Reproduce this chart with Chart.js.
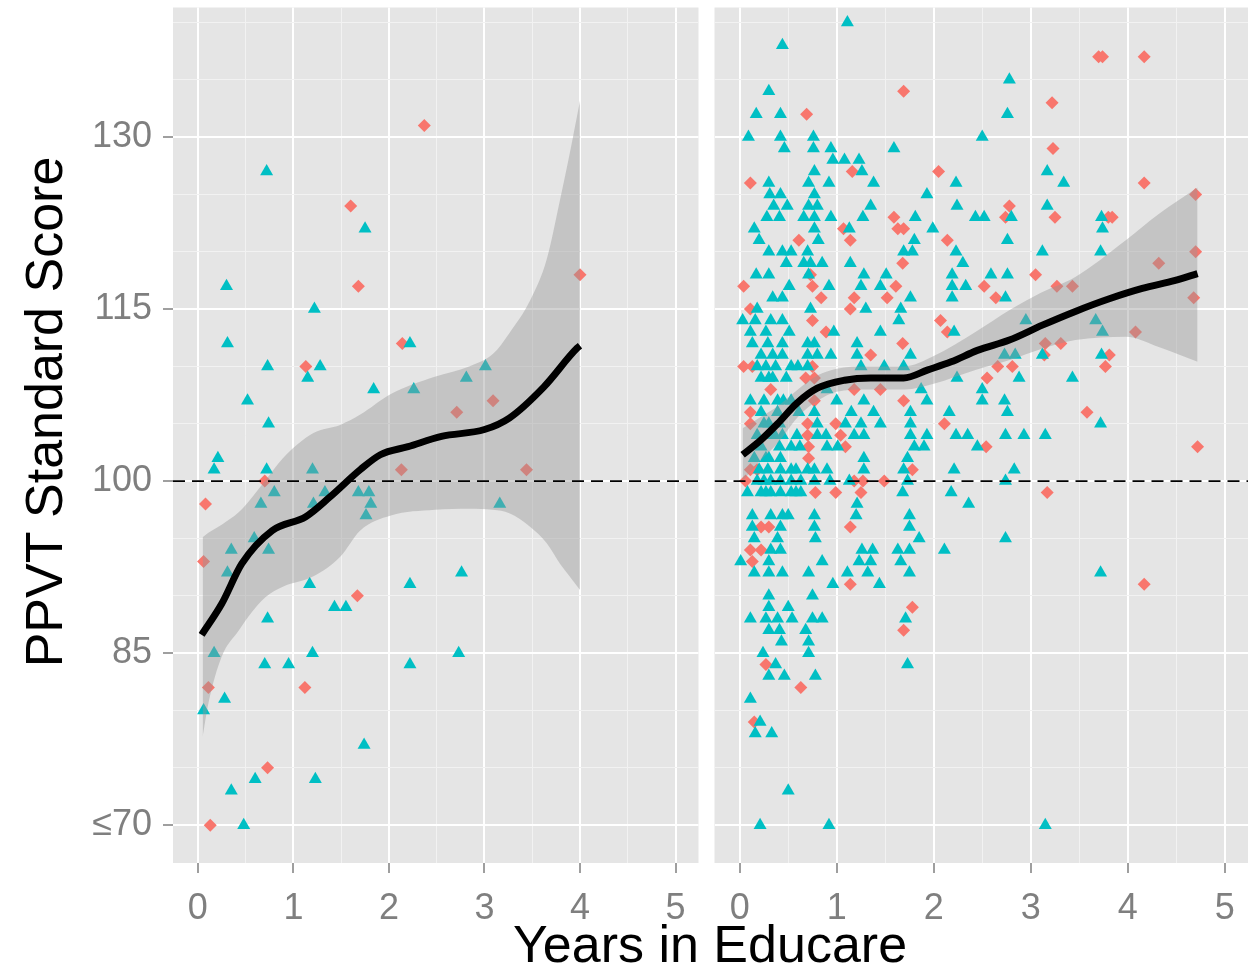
<!DOCTYPE html>
<html>
<head>
<meta charset="utf-8">
<script src="https://cdn.jsdelivr.net/npm/chart.js@4.4.1/dist/chart.umd.min.js"></script>
<style>
  body { margin: 0; background: #fff; }
  #wrap { position: relative; width: 1258px; height: 969px; font-family: "Liberation Sans", Arial, sans-serif; }
  canvas { position: absolute; top: 0; }
  #left { left: 0; }
  #right { left: 707px; }
  .axis-title { position: absolute; font-size: 52px; line-height: 52px; color: #000; white-space: nowrap; text-align: center; }
  #ytitle { left: -282px; top: 386px; width: 652px; transform: rotate(-90deg); }
  #xtitle { left: 410px; top: 918px; width: 600px; }
</style>
</head>
<body>
<div id="wrap">
  <canvas id="left" width="706" height="969"></canvas>
  <canvas id="right" width="551" height="969"></canvas>
  <div id="ytitle" class="axis-title">PPVT Standard Score</div>
  <div id="xtitle" class="axis-title">Years in Educare</div>
</div>
<script>
// axis setup
const xMin = -0.26, xMax = 5.24;
const yMin = 66.7, yMax = 141.3;
const xGrid = [0, 0.5, 1, 1.5, 2, 2.5, 3, 3.5, 4, 4.5, 5];
const yGrid = [70, 75, 80, 85, 90, 95, 100, 105, 110, 115, 120, 125, 130, 135, 140];
const yMajor = [70, 85, 100, 115, 130];
const refLine = 100;

// left panel points [years, score]
const leftTeal = [
  [0.72,127],[1.75,122],[0.30,117],[1.22,115],[0.31,112],[2.22,112],[0.73,110],[1.28,110],
  [1.15,109],[3.01,110],[2.81,109],[0.52,107],[1.84,108],[2.26,108],[0.74,105],[0.21,102],
  [0.17,101],[0.72,101],[1.20,101],[0.80,99],[1.33,99],[1.68,99],[1.79,99],[0.66,98],
  [1.21,98],[1.81,98],[1.76,97],[3.16,98],[0.59,95],[0.35,94],[0.74,94],[0.31,92],
  [1.17,91],[2.22,91],[2.76,92],[1.43,89],[1.55,89],[0.73,88],[0.17,85],[1.20,85],
  [2.73,85],[0.70,84],[0.95,84],[2.22,84],[0.28,81],[0.06,80],[1.74,77],[0.60,74],
  [1.23,74],[0.35,73],[0.48,70]
];
const leftRed = [
  [2.37,131],[1.60,124],[1.68,117],[4.0,118],[2.14,112],[1.13,110],[3.09,107],[2.71,106],
  [2.13,101],[3.44,101],[0.70,100],[0.08,98],[0.06,93],[1.67,90],[0.11,82],[1.12,82],
  [0.73,75],[0.13,70]
];

// right panel points [years, score]
const rightTeal = [
  [1.11,140],[0.44,138],[0.30,134],[0.17,132],[0.42,132],[0.09,130],[0.42,130],[0.76,130],
  [0.46,129],[0.76,129],[0.94,129],[1.59,129],[0.96,128],[1.08,128],[1.23,128],[1.26,127],
  [0.77,127],[0.30,126],[0.71,126],[0.92,126],[1.38,126],[2.23,126],[0.31,125],[0.42,125],
  [0.77,125],[1.93,125],[0.35,124],[0.49,124],[0.71,124],[0.80,124],[1.35,124],[2.24,124],
  [0.28,123],[0.41,123],[0.66,123],[0.77,123],[0.94,123],[1.27,123],[1.81,123],[0.15,122],
  [0.77,122],[1.13,122],[1.99,122],[0.20,121],[0.81,121],[1.80,121],[0.30,120],[0.44,120],
  [0.53,120],[0.70,120],[1.69,120],[1.78,120],[2.23,120],[0.48,119],[0.66,119],[0.73,119],
  [0.85,119],[1.14,119],[2.30,119],[0.17,118],[0.30,118],[0.71,118],[1.28,118],[1.51,118],
  [2.19,118],[0.51,117],[0.92,117],[1.25,117],[1.45,117],[2.19,117],[2.33,117],[0.34,116],
  [0.44,116],[1.76,116],[2.19,116],
  [0.18,115],[0.73,115],[1.30,115],[1.66,115],[0.03,114],[0.16,114],[0.32,114],[0.44,114],
  [1.64,114],[0.11,113],[0.27,113],[0.51,113],[0.97,113],[1.45,113],[2.21,113],[0.13,112],
  [0.29,112],[0.44,112],[0.70,112],[0.77,112],[1.21,112],[0.22,111],[0.34,111],[0.44,111],
  [0.70,111],[0.80,111],[0.94,111],[1.21,111],[1.76,111],[0.27,110],[0.37,110],[0.53,110],
  [0.70,110],[1.25,110],[1.49,110],[1.69,110],[0.22,109],[0.34,109],[0.48,109],[2.24,109],
  [0.90,108],[1.87,108],[0.11,107],[0.25,107],[0.39,107],[0.53,107],[1.00,107],[1.28,107],
  [1.93,107],[0.22,106],[0.39,106],[0.61,106],[0.77,106],[1.15,106],[1.38,106],[1.76,106],
  [2.16,106],[0.25,105],[0.41,105],[0.80,105],[1.09,105],[1.25,105],[1.45,105],[1.76,105],
  [0.18,104],[0.32,104],[0.44,104],[0.80,104],[0.89,104],[1.18,104],[1.28,104],[1.76,104],
  [1.93,104],[2.23,104],[2.35,104],[0.22,103],[0.41,103],[0.53,103],[0.90,103],[1.01,103],
  [1.80,103],[1.90,103],[0.15,102],[0.30,102],[0.42,102],[1.28,102],[1.73,102],[0.29,101],
  [0.42,101],[0.58,101],[0.70,101],[0.90,101],[1.28,101],[1.69,101],[2.21,101],[0.18,100],
  [0.32,100],[0.42,100],[0.53,100],[0.63,100],[0.77,100],[0.93,100],[1.13,100],[1.73,100],
  [0.08,99],[0.22,99],[0.32,99],[0.42,99],[0.53,99],[0.63,99],[1.68,99],[2.18,99],
  [2.36,98],[1.21,98],[1.20,97],[0.13,97],[0.32,97],[0.44,97],[0.77,97],[1.75,97],
  [0.13,96],[0.42,96],[0.77,96],[1.75,96],[0.15,95],[0.39,95],[0.78,95],[1.85,95],
  [0.32,94],[0.42,94],[1.26,94],[1.37,94],[1.63,94],[1.75,94],[2.11,94],[0.01,93],
  [0.30,93],[0.85,93],[1.23,93],[1.35,93],[1.66,93],[0.15,92],[0.30,92],[0.44,92],
  [0.71,92],[1.11,92],[1.32,92],[1.75,92],
  [0.20,101],[0.53,101],[0.77,101],[0.62,103],[0.27,102],[0.50,97],[0.25,100],[0.30,109],
  [0.45,107],[0.59,104],[0.36,104],[0.30,105],[0.60,110],[0.18,110],[0.58,99],[0.27,99],
  [0.96,91],[1.44,91],[0.30,90],[0.75,90],[0.30,89],[0.50,89],[0.11,88],[0.27,88],
  [0.39,88],[0.54,88],[0.75,88],[0.85,88],[1.71,88],[0.30,87],[0.41,87],[0.68,87],
  [0.43,86],[0.71,86],[0.24,85],[0.71,85],[0.37,84],[1.73,84],[0.30,83],[0.46,83],
  [0.78,83],[0.11,81],[0.21,79],[0.16,78],[0.33,78],[0.50,73],[0.21,70],[0.92,70],
  [2.78,135],[2.76,132],[2.50,130],[3.17,127],[3.34,126],[3.17,124],[2.43,123],[2.52,123],
  [2.80,123],[3.73,123],[3.74,122],[2.76,121],[3.12,120],[3.72,120],[2.59,118],[2.76,118],
  [2.74,116],[2.95,114],[3.67,114],[3.74,113],[2.73,111],[2.84,111],[3.12,111],[3.73,111],
  [2.88,109],[3.43,109],[2.50,108],[2.50,107],[2.73,107],[2.76,106],[3.72,105],[2.74,104],
  [2.93,104],[3.15,104],[2.45,103],[2.83,101],[2.74,100],[2.74,95],[3.72,92],[3.15,70]
];
const rightRed = [
  [1.69,134],[0.69,132],[1.16,127],[2.05,127],[0.11,126],[1.59,123],[1.07,122],[1.63,122],
  [1.69,122],[0.61,121],[1.14,121],[2.14,121],[1.68,119],[0.73,118],[0.04,117],[0.75,117],
  [1.61,117],[0.84,116],[1.18,116],[1.52,116],
  [0.11,115],[1.14,115],[0.75,114],[2.07,114],[2.14,113],[0.89,113],[1.68,112],[1.35,111],
  [0.04,110],[0.13,110],[0.75,110],[0.68,109],[0.77,109],[0.32,108],[1.18,108],[1.45,108],
  [0.77,107],[1.69,107],[0.11,106],[0.11,105],[0.70,105],[0.99,105],[2.11,105],[0.70,104],
  [1.04,104],[0.71,103],[1.09,103],[0.71,102],[0.11,101],[0.18,101],[1.78,101],[0.06,100],
  [1.18,100],[1.27,100],[1.49,100],[0.78,99],[0.99,99],[1.25,99],[0.22,96],[0.30,96],
  [1.14,96],[0.11,94],[0.22,94],[0.13,93],
  [1.14,91],[1.78,89],[1.69,87],[0.27,84],[0.63,82],[0.15,79],
  [3.70,137],[3.74,137],[4.17,137],[3.22,133],[3.23,129],[4.17,126],[4.70,125],[2.78,124],
  [2.74,123],[3.25,123],[3.80,123],[3.84,123],[4.70,120],[4.32,119],[3.05,118],[2.52,117],
  [3.27,117],[3.43,117],[2.64,116],[4.68,116],[4.08,113],[3.15,112],[3.31,112],[3.14,111],
  [3.81,111],[2.66,110],[2.81,110],[3.77,110],[2.55,109],[3.58,106],
  [2.54,103],[4.72,103],[3.17,99],[4.17,91]
];

// loess fits and confidence bands
const leftFitX = [0.04, 0.25, 0.46, 0.78, 1.13, 1.38, 1.70, 1.91, 2.20, 2.55, 3.00, 3.26, 3.62, 3.97, 4.00];
const leftFitY = [86.6, 89.3, 92.8, 95.7, 96.9, 98.6, 101.0, 102.3, 103.0, 103.9, 104.5, 105.5, 108.2, 111.6, 111.8];
const leftBandX = [0.05, 0.11, 0.25, 0.43, 0.53, 0.71, 0.89, 1.21, 1.49, 1.70, 2.02, 2.48, 2.84, 3.09, 3.26, 3.48, 3.65, 3.79, 3.90, 4.00];
const leftBandHi = [95.1, 95.5, 96.2, 97.3, 98.2, 100.1, 102.0, 104.2, 104.9, 105.8, 107.6, 109.1, 110.0, 111.1, 112.9, 115.8, 119.3, 124.5, 128.9, 133.2];
const leftBandLo = [77.7, 80.6, 84.7, 87.0, 88.2, 89.9, 90.8, 91.7, 93.4, 95.7, 97.0, 97.5, 97.6, 97.5, 97.2, 96.0, 94.6, 92.8, 91.6, 90.5];

const rightFitX = [0.03, 0.22, 0.39, 0.59, 0.80, 1.08, 1.35, 1.69, 1.94, 2.18, 2.45, 2.78, 3.12, 3.46, 3.81, 4.15, 4.49, 4.72];
const rightFitY = [102.3, 103.6, 105.0, 106.8, 108.1, 108.8, 109.0, 109.0, 109.7, 110.4, 111.4, 112.3, 113.6, 114.8, 115.9, 116.8, 117.5, 118.1];
const rightBandX = [0.03, 0.2, 0.4, 0.6, 0.8, 1.0, 1.3, 1.7, 2.0, 2.43, 2.8, 3.1, 3.46, 3.98, 4.32, 4.72];
const rightBandHi = [104.6, 105.5, 106.6, 108.0, 109.2, 109.8, 110.0, 110.0, 110.9, 113.0, 115.0, 116.4, 117.8, 121.0, 123.3, 125.6];
const rightBandLo = [100.0, 101.7, 103.4, 105.6, 107.0, 107.8, 108.0, 108.0, 108.5, 109.7, 110.6, 111.5, 112.3, 112.6, 111.7, 110.4];

const font = '"Liberation Sans", Arial, sans-serif';
const tealColor = '#00BFC4';
const redColor = '#F8766D';
const tickGray = '#7F7F7F';

const panelBg = {
  id: 'panelBg',
  beforeDraw(chart) {
    const { ctx, chartArea: a } = chart;
    ctx.save();
    ctx.fillStyle = '#E5E5E5';
    ctx.fillRect(a.left, a.top, a.right - a.left, a.bottom - a.top);
    ctx.restore();
  }
};

const toPts = list => list.map(p => ({ x: p[0], y: p[1] }));
const toCurve = (xs, ys) => xs.map((x, i) => ({ x: x, y: ys[i] }));
const isMajorX = v => Number.isInteger(v);
const isMajorY = v => yMajor.includes(v);
const noPad = s => { s.paddingTop = 0; s.paddingBottom = 0; s.paddingLeft = 0; s.paddingRight = 0; };

function makePanel(id, teal, red, fitX, fitY, bandX, bandHi, bandLo, showY) {
  const ctx = document.getElementById(id).getContext('2d');
  return new Chart(ctx, {
    type: 'scatter',
    data: {
      datasets: [
        {
          type: 'line', data: [{ x: xMin, y: refLine }, { x: xMax, y: refLine }],
          borderColor: '#000', borderWidth: 1.8, borderDash: [12, 7],
          pointRadius: 0, fill: false, order: 0
        },
        {
          type: 'line', data: toCurve(fitX, fitY),
          borderColor: '#000', borderWidth: 7, pointRadius: 0,
          tension: 0.4, cubicInterpolationMode: 'monotone', fill: false, order: 1
        },
        {
          type: 'line', data: toCurve(bandX, bandHi),
          borderWidth: 0, borderColor: 'rgba(0,0,0,0)', pointRadius: 0,
          tension: 0.4, cubicInterpolationMode: 'monotone',
          fill: '+1', backgroundColor: 'rgba(150,150,150,0.42)', order: 2
        },
        {
          type: 'line', data: toCurve(bandX, bandLo),
          borderWidth: 0, borderColor: 'rgba(0,0,0,0)', pointRadius: 0,
          tension: 0.4, cubicInterpolationMode: 'monotone', fill: false, order: 3
        },
        {
          data: toPts(teal), pointStyle: 'triangle', pointRadius: 7.5,
          backgroundColor: tealColor, borderColor: tealColor, borderWidth: 0, order: 4
        },
        {
          data: toPts(red), pointStyle: 'rectRot', pointRadius: 6.5,
          backgroundColor: redColor, borderColor: redColor, borderWidth: 0, order: 5
        }
      ]
    },
    options: {
      responsive: false,
      animation: false,
      events: [],
      layout: { padding: { left: 0, top: 7, right: showY ? 1 : 10, bottom: 0 } },
      plugins: { legend: { display: false }, tooltip: { enabled: false } },
      scales: {
        x: {
          type: 'linear', min: xMin, max: xMax,
          afterBuildTicks: s => { s.ticks = xGrid.map(v => ({ value: v })); },
          afterFit: s => { s.height = 106; noPad(s); },
          border: { display: false },
          grid: {
            color: c => isMajorX(c.tick.value) ? '#FFFFFF' : '#F2F2F2',
            lineWidth: c => isMajorX(c.tick.value) ? 2 : 1,
            tickColor: c => isMajorX(c.tick.value) ? tickGray : 'rgba(0,0,0,0)',
            tickLength: 10, tickWidth: 1.5
          },
          ticks: {
            autoSkip: false, maxRotation: 0, padding: 14, color: tickGray,
            font: { size: 36, family: font },
            callback: v => isMajorX(v) ? String(v) : ''
          }
        },
        y: {
          type: 'linear', min: yMin, max: yMax,
          afterBuildTicks: s => { s.ticks = yGrid.map(v => ({ value: v })); },
          afterFit: s => { s.width = showY ? 173 : 0; noPad(s); },
          border: { display: false },
          grid: {
            color: c => isMajorY(c.tick.value) ? '#FFFFFF' : '#F2F2F2',
            lineWidth: c => isMajorY(c.tick.value) ? 2 : 1,
            tickColor: c => isMajorY(c.tick.value) ? tickGray : 'rgba(0,0,0,0)',
            drawTicks: showY, tickLength: 10, tickWidth: 1.5
          },
          ticks: {
            display: showY, autoSkip: false, padding: 11, color: tickGray,
            font: { size: 36, family: font },
            callback: v => isMajorY(v) ? (v === 70 ? '\u2264' + v : String(v)) : ''
          }
        }
      }
    },
    plugins: [panelBg]
  });
}

makePanel('left', leftTeal, leftRed, leftFitX, leftFitY, leftBandX, leftBandHi, leftBandLo, true);
makePanel('right', rightTeal, rightRed, rightFitX, rightFitY, rightBandX, rightBandHi, rightBandLo, false);
</script>
</body>
</html>
